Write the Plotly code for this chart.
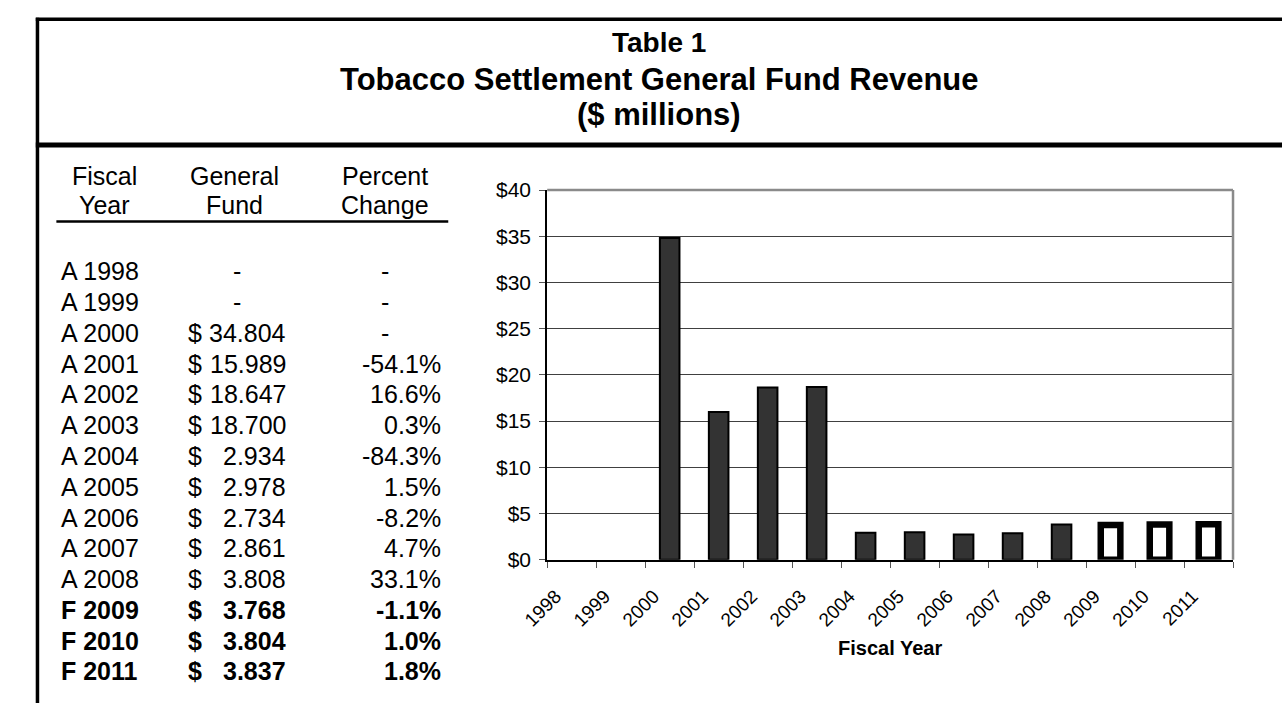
import plotly.graph_objects as go

# ---- data -------------------------------------------------------------
years = ["1998", "1999", "2000", "2001", "2002", "2003", "2004",
         "2005", "2006", "2007", "2008", "2009", "2010", "2011"]
status = ["A", "A", "A", "A", "A", "A", "A", "A", "A", "A", "A", "F", "F", "F"]
general_fund = [None, None, 34.804, 15.989, 18.647, 18.700, 2.934,
                2.978, 2.734, 2.861, 3.808, 3.768, 3.804, 3.837]
percent_change = [None, None, None, -54.1, 16.6, 0.3, -84.3,
                  1.5, -8.2, 4.7, 33.1, -1.1, 1.0, 1.8]
y_ticks = [0, 5, 10, 15, 20, 25, 30, 35, 40]
y_tick_text = ["$0", "$5", "$10", "$15", "$20", "$25", "$30", "$35", "$40"]

title_lines = ["Table 1", "Tobacco Settlement General Fund Revenue", "($ millions)"]
col_headers = [("Fiscal", "Year"), ("General", "Fund"), ("Percent", "Change")]

# ---- page geometry (pixels) ------------------------------------------
W, H = 1282, 714
FONT = "Liberation Sans, Arial, Helvetica, sans-serif"


def px(x):
    return x / W


def py(y):
    return 1 - y / H


PLOT_L, PLOT_R, PLOT_T, PLOT_B = 532, 1232, 184, 566

annotations = []


def text(x, y, s, anchor="center", size=25, bold=False):
    annotations.append(dict(
        x=px(x), y=py(y), xref="paper", yref="paper",
        text=f"<b>{s}</b>" if bold else s,
        showarrow=False, xanchor=anchor, yanchor="middle",
        borderpad=0, borderwidth=0,
        font=dict(family=FONT, size=size, color="black"),
    ))


# title block
text(646.5, 32, title_lines[0], size=28, bold=True)
text(646.5, 70, title_lines[1], size=31, bold=True)
text(646.5, 106, title_lines[2], size=31, bold=True)

# table headers
header_x = [80, 213, 366]
for hx, (l1, l2) in zip(header_x, col_headers):
    text(hx, 169, l1)
    text(hx, 199, l2)

# table rows
ROW0, ROW_STEP = 268, 31.8
for i, yr in enumerate(years):
    ry = ROW0 + i * ROW_STEP
    bold = status[i] == "F"
    text(36, ry, f"{status[i]} {yr}", anchor="left", bold=bold)
    gf = general_fund[i]
    if gf is None:
        text(215, ry, "-")
    else:
        text(165, ry, "$", anchor="left", bold=bold)
        text(265, ry, f"{gf:.3f}", anchor="right", bold=bold)
    pc = percent_change[i]
    if pc is None:
        text(366, ry, "-")
    else:
        text(424, ry, f"{pc:.1f}%", anchor="right", bold=bold)

# x-axis title
text(882, 657, "Fiscal Year", size=20, bold=True)

# frame lines
shapes = [
    dict(type="line", xref="paper", yref="paper", x0=px(10), x1=px(W), y0=py(7.5), y1=py(7.5),
         line=dict(color="black", width=3.5)),
    dict(type="line", xref="paper", yref="paper", x0=px(11.7), x1=px(11.7), y0=py(6), y1=py(H),
         line=dict(color="black", width=3.5)),
    dict(type="line", xref="paper", yref="paper", x0=px(10), x1=px(W), y0=py(137.5), y1=py(137.5),
         line=dict(color="black", width=5)),
    dict(type="line", xref="paper", yref="paper", x0=px(31), x1=px(431), y0=py(216.5), y1=py(216.5),
         line=dict(color="black", width=2.5)),
    # plot-area border (top and right)
    dict(type="line", xref="x domain", yref="y domain", x0=0, x1=1, y0=1, y1=1,
         line=dict(color="#8a8a8a", width=2.5)),
    dict(type="line", xref="x domain", yref="y domain", x0=1, x1=1, y0=0, y1=1,
         line=dict(color="#8a8a8a", width=2.5)),
]

# ---- bars -------------------------------------------------------------
actual_idx = [i for i, s in enumerate(status) if s == "A"]
forecast_idx = [i for i, s in enumerate(status) if s == "F"]

fig = go.Figure()
fig.add_trace(go.Bar(
    x=[years[i] for i in actual_idx],
    y=[general_fund[i] for i in actual_idx],
    width=0.4,
    marker=dict(color="#333333", line=dict(color="black", width=2)),
    name="Actual",
))
fig.add_trace(go.Bar(
    x=[years[i] for i in forecast_idx],
    y=[general_fund[i] for i in forecast_idx],
    width=0.4,
    marker=dict(color="white", line=dict(color="black", width=6.5)),
    name="Forecast",
))

fig.update_layout(
    width=W, height=H, autosize=False,
    margin=dict(l=0, r=0, t=0, b=0),
    paper_bgcolor="white", plot_bgcolor="white",
    showlegend=False, barmode="overlay",
    annotations=annotations, shapes=shapes,
    xaxis=dict(
        type="category", categoryorder="array", categoryarray=years,
        domain=[px(PLOT_L), px(PLOT_R)], range=[-0.5, len(years) - 0.5],
        tickson="boundaries", ticks="outside", ticklen=6, tickcolor="#555555",
        showline=True, linecolor="black", linewidth=2,
        showgrid=False, tickangle=-45,
        ticklabelstandoff=16, ticklabelshift=-16,
        tickfont=dict(family=FONT, size=19, color="black"),
    ),
    yaxis=dict(
        domain=[py(PLOT_B), py(PLOT_T)], range=[0, 40],
        tickmode="array", tickvals=y_ticks, ticktext=y_tick_text,
        ticks="outside", ticklen=6, tickcolor="#555555",
        ticklabelstandoff=4,
        showline=True, linecolor="black", linewidth=2,
        showgrid=True, gridcolor="#404040", gridwidth=1, zeroline=False,
        tickfont=dict(family=FONT, size=21, color="black"),
    ),
)

fig.write_html("out.html")
